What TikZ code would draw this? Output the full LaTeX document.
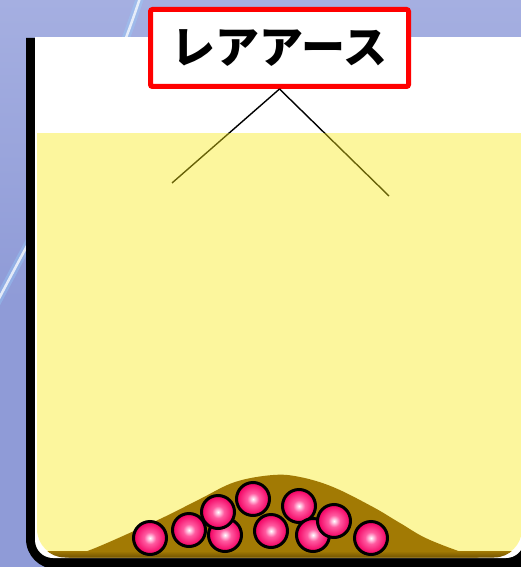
\documentclass[tikz,border=0pt]{standalone}
\usepackage{fontspec}
\newfontfamily\jpfont{Noto Sans CJK JP}
\usetikzlibrary{calc}

\definecolor{bgblue}{RGB}{143,155,215}
\definecolor{bglight}{RGB}{165,175,225}
\definecolor{streakblue}{RGB}{150,210,255}
\definecolor{liquid}{RGB}{250,235,22}
\definecolor{sediment}{RGB}{162,122,4}
\definecolor{sedimentdark}{RGB}{110,80,0}
\definecolor{labelred}{RGB}{255,0,0}
\definecolor{ballhi}{RGB}{255,220,238}
\definecolor{ballmid}{RGB}{255,90,160}
\definecolor{ballred}{RGB}{242,0,98}

\pgfdeclareradialshading{pinkball}{\pgfpoint{0bp}{0bp}}{%
  color(0bp)=(white); color(2bp)=(ballhi); color(9bp)=(ballmid);
  color(24bp)=(ballred); color(100bp)=(ballred)}

\tikzset{
  particle/.style={circle, minimum size=33pt, inner sep=0pt,
    draw=black, line width=3pt, shading=pinkball},
  labelbox/.style={draw=labelred, line width=5pt, fill=white, rounded corners=2pt,
    minimum width=258pt, minimum height=77pt, inner sep=0pt,
    font=\jpfont\bfseries\fontsize{44}{44}\selectfont},
  guide/.style={draw=black, line width=1.4pt},
}

\begin{document}
\begin{tikzpicture}[x=1pt, y=-1pt]
  \useasboundingbox (0,0) rectangle (521,567);

  % background with a soft light streak
  \shade[top color=bglight, bottom color=bgblue] (0,0) rectangle (521,300);
  \fill[bgblue] (0,300) rectangle (521,567);
  \draw[streakblue, line width=8pt, opacity=0.35]
    (141,-5) .. controls (100,120) and (50,200) .. (-8,312);
  \draw[white, line width=2.5pt, opacity=0.75]
    (141,-5) .. controls (100,120) and (50,200) .. (-8,312);

  % beaker wall
  \fill[black] (26,38) [rounded corners=30pt] -- (26,569) -- (580,569)
    [sharp corners] -- (580,38) -- cycle;

  % beaker interior
  \begin{scope}
    \clip (0,38) rectangle (600,600);
    \fill[white, rounded corners=18pt] (35,10) rectangle (524,558);
  \end{scope}

  % label with its two pointer lines
  \node[labelbox] (label) at (279.5,48) {レアアース};
  \coordinate (leftend) at (172,183);
  \coordinate (rightend) at (389,196);
  \draw[guide] (label.south) -- (leftend);
  \draw[guide] (label.south) -- (rightend);

  % liquid
  \begin{scope}
    \clip (0,133) rectangle (600,600);
    \fill[liquid, fill opacity=0.42, rounded corners=28pt] (37,100) rectangle (522,557);
  \end{scope}

  % sediment mound
  \begin{scope}
    \clip[rounded corners=28pt] (37,100) rectangle (522,557.5);
    \fill[sediment] plot[smooth, tension=0.6] coordinates {
      (40,566) (67,558) (100,546) (160,519) (200,499) (235,482) (273,475)
      (300,477) (333,487) (373,507) (400,523) (430,540) (480,558) (520,566)}
      -- cycle;
    \shade[top color=sediment, bottom color=sedimentdark] (37,551) rectangle (522,558);
  \end{scope}

  % particles
  \node[particle] (p2)  at (189,530) {};
  \node[particle] (p3)  at (225,535) {};
  \node[particle] (p5)  at (253,499) {};
  \node[particle] (p4)  at (218,512) {};
  \node[particle] (p6)  at (271,531) {};
  \node[particle] (p7)  at (299,506) {};
  \node[particle] (p8)  at (313,535) {};
  \node[particle] (p9)  at (334,521) {};
  \node[particle] (p10) at (371,538) {};
  \node[particle] (p1)  at (150,538) {};
\end{tikzpicture}
\end{document}
